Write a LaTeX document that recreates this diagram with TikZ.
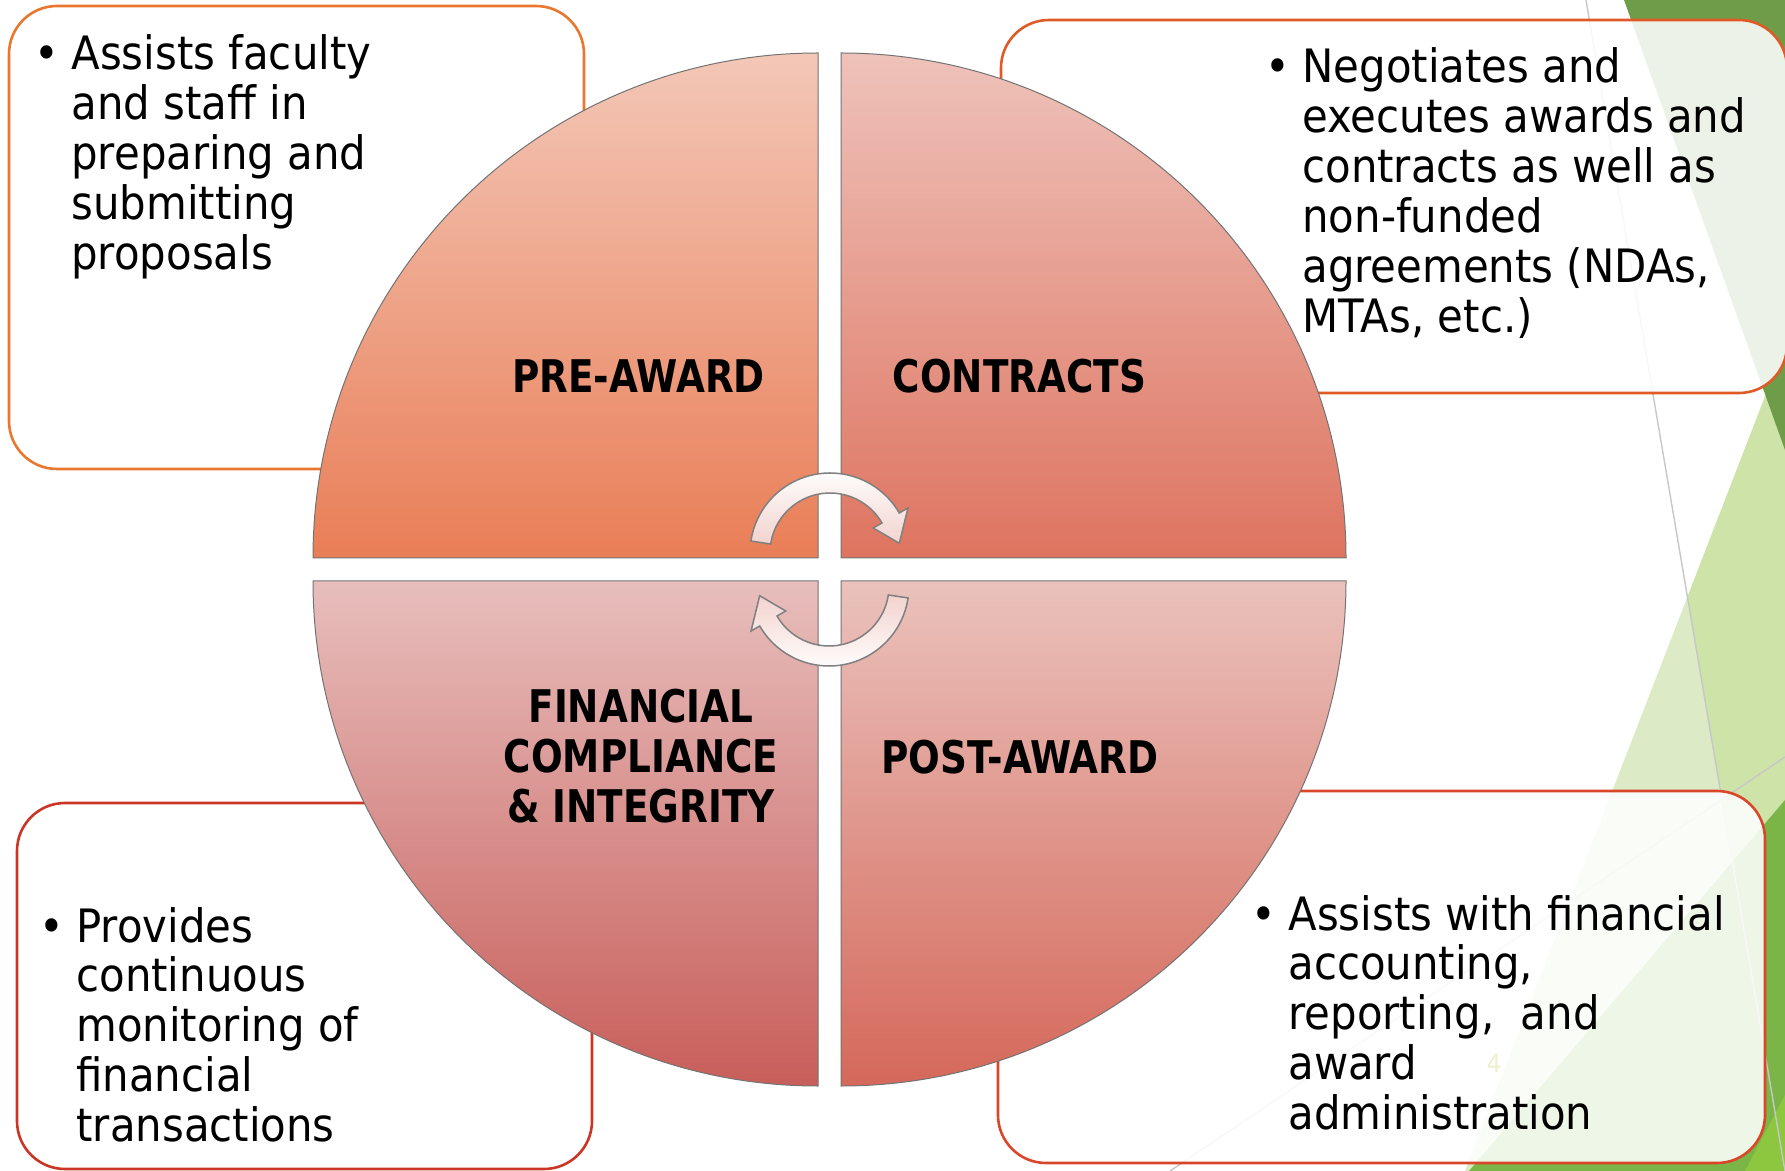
\documentclass[tikz,border=0pt]{standalone}
\usepackage{fontspec}
\setmainfont{DejaVu Sans}
\newfontfamily\bodyfont{DejaVu Sans}[FakeStretch=0.91]
\newfontfamily\labelfont{DejaVu Sans}[FakeStretch=0.83]

% quadrant gradients
\definecolor{ulTop}{HTML}{F3C7B7}
\definecolor{ulBot}{HTML}{E97E57}
\definecolor{urTop}{HTML}{EEC2BA}
\definecolor{urBot}{HTML}{DE7460}
\definecolor{llTop}{HTML}{E7BEBC}
\definecolor{llBot}{HTML}{C85E5A}
\definecolor{lrTop}{HTML}{EAC2BC}
\definecolor{lrBot}{HTML}{D5685A}
% box outlines
\definecolor{edgeTL}{HTML}{E9772E}
\definecolor{edgeTR}{HTML}{E05A28}
\definecolor{edgeBR}{HTML}{D9462A}
\definecolor{edgeBL}{HTML}{CB3526}
% side decoration
\definecolor{greenDark}{HTML}{6F9C49}
\definecolor{greenPale}{HTML}{DCEBC5}
\definecolor{greenSoft}{HTML}{CDE3A8}
\definecolor{greenBright}{HTML}{7BB547}
\definecolor{greenLime}{HTML}{8DC63F}
\definecolor{arrowPink}{HTML}{F2D3CE}
\definecolor{pageNum}{HTML}{ECF0CC}

\tikzset{
  infobox/.style={rounded corners=24pt, line width=1.3pt, fill=white,
    fill opacity=0.88, inner sep=0pt, outer sep=0pt},
  bodytext/.style={anchor=base west, inner sep=0pt,
    font=\bodyfont\fontsize{23}{24.9}\selectfont},
  phase/.style={anchor=base, inner sep=0pt,
    font=\labelfont\bfseries\fontsize{22.5}{24.9}\selectfont},
  quadrant/.style={draw=black!55, line width=0.5pt},
  cyclearrow/.style={draw=black!50, line width=0.75pt},
  guideline/.style={draw=black!22, line width=0.7pt},
}
\newcommand{\bul}{\llap{\textbullet\hspace{6pt}}}

\begin{document}
\begin{tikzpicture}[x=0.5pt, y=-0.5pt]
\useasboundingbox (0,0) rectangle (1785,1171);
\clip (0,0) rectangle (1785,1171);

% green facets on the right
\fill[greenPale] (1785,345) -- (1785,1171) -- (1465,1171) -- cycle;
\fill[greenSoft] (1785,345) -- (1687.5,597) -- (1785,1171) -- cycle;
\fill[greenDark] (1624,0) -- (1785,0) -- (1785,450) -- cycle;
\fill[greenBright] (1469,1171) -- (1785,800) -- (1785,1171) -- cycle;
\fill[greenLime] (1745,1171) -- (1785,1095) -- (1785,1171) -- cycle;
\coordinate (g1a) at (1586,0);
\coordinate (g1b) at (1785,1171);
\coordinate (g2a) at (1170,1171);
\coordinate (g2b) at (1785,757);
\draw[guideline] (g1a) -- (g1b);
\draw[guideline] (g2a) -- (g2b);

% description boxes
\node[infobox, draw=edgeTL, minimum width=287.5pt, minimum height=231.5pt] (boxTL) at (296.5,237.5) {};
\node[infobox, draw=edgeTR, minimum width=393pt, minimum height=186.5pt] (boxTR) at (1394,206.5) {};
\node[infobox, draw=edgeBL, minimum width=287.5pt, minimum height=183pt] (boxBL) at (304.5,986) {};
\node[infobox, draw=edgeBR, minimum width=383.5pt, minimum height=186pt] (boxBR) at (1381.5,977) {};

% the four quarter discs
\path[quadrant, top color=ulTop, bottom color=ulBot]
  (818,558) -- (313,558) arc[start angle=180, end angle=270, radius=505] -- cycle;
\path[quadrant, top color=urTop, bottom color=urBot]
  (841,558) -- (841,53) arc[start angle=270, end angle=360, radius=505] -- cycle;
\path[quadrant, top color=lrTop, bottom color=lrBot]
  (841,581) -- (1346,581) arc[start angle=0, end angle=90, radius=505] -- cycle;
\path[quadrant, top color=llTop, bottom color=llBot]
  (818,581) -- (818,1086) arc[start angle=90, end angle=180, radius=505] -- cycle;

% circular arrows in the middle
\begin{scope}[shift={(830,553)}]
  \path[cyclearrow, top color=white, bottom color=arrowPink]
    (188.6:80) arc[start angle=188.6, end angle=330, radius=80]
    -- (330:90) -- (352:70) -- (330:50) -- (330:60)
    arc[start angle=330, end angle=188.6, radius=60] -- cycle;
\end{scope}
\begin{scope}[shift={(829,586)}]
  \path[cyclearrow, top color=arrowPink, bottom color=white]
    (8.6:80) arc[start angle=8.6, end angle=150, radius=80]
    -- (150:90) -- (172:70) -- (150:50) -- (150:60)
    arc[start angle=150, end angle=8.6, radius=60] -- cycle;
\end{scope}

% phase labels
\node[phase] (lblPre) at (638.5,393) {PRE-AWARD};
\node[phase] (lblCon) at (1019.5,393) {CONTRACTS};
\node[phase] (lblPost) at (1020,773) {POST-AWARD};
\node[phase] (lblFin) at (641,723)
  {\begin{tabular}[t]{@{}c@{}}FINANCIAL\\COMPLIANCE\\\& INTEGRITY\end{tabular}};

% descriptions
\node[bodytext] (txtTL) at (71,70)
  {\begin{tabular}[t]{@{}l@{}}\bul Assists faculty\\and staff in\\preparing and\\submitting\\proposals\end{tabular}};
\node[bodytext] (txtTR) at (1302,83)
  {\begin{tabular}[t]{@{}l@{}}\bul Negotiates and\\executes awards and\\contracts as well as\\non-funded\\agreements (NDAs,\\MTAs, etc.)\end{tabular}};
\node[bodytext] (txtBL) at (76,942)
  {\begin{tabular}[t]{@{}l@{}}\bul Provides\\continuous\\monitoring of\\financial\\transactions\end{tabular}};
\node[bodytext] (txtBR) at (1288,930)
  {\begin{tabular}[t]{@{}l@{}}\bul Assists with financial\\accounting,\\reporting,\ \ and\\award\\administration\end{tabular}};

% slide number
\node[text=pageNum, font=\bodyfont\fontsize{12.5}{14}\selectfont, inner sep=0pt] (pgnum) at (1494,1063) {4};
\end{tikzpicture}
\end{document}
